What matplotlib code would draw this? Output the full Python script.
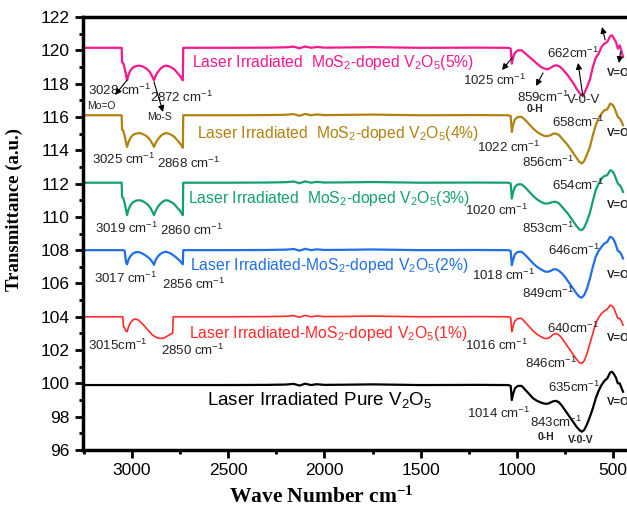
import numpy as np
import matplotlib
matplotlib.use("Agg")
import matplotlib.pyplot as plt
from matplotlib.ticker import MultipleLocator

plt.rcParams['font.family'] = ['Liberation Sans', 'DejaVu Sans']
plt.rcParams['mathtext.default'] = 'regular'

# wavenumber grids (cm-1)
wn_hi = [3255, 3054, 3052, 3045, 3038, 3032, 3026, 3018, 3008, 2995, 2980, 2965, 2950, 2935,
         2920, 2905, 2894, 2886, 2878, 2866, 2852, 2838, 2824, 2810, 2795, 2780, 2765, 2750,
         2740, 2736, 2734]
wn_red_hi = [3255, 3048, 3045, 3038, 3032, 3026, 3018, 3008, 2995, 2984, 2970, 2955, 2940, 2925,
             2910, 2895, 2880, 2865, 2850, 2835, 2820, 2805, 2792, 2789, 2786]
wn_mid = [2500, 2300, 2200, 2160, 2130, 2100, 2070, 2040, 2000, 1900, 1750, 1500, 1200, 1060]
wn_lo = [1045, 1032, 1026, 1020, 1010, 995, 975, 955, 935, 915, 895, 875, 855, 840, 825, 810,
         795, 780, 765, 750, 735, 720, 705, 690, 675, 662, 650, 635, 620, 605, 590, 575, 560,
         545, 530, 515, 505, 495, 485, 475, 465, 455, 448]

# 5 %
mag_hi = [120.15, 120.15, 119.3, 119.2, 118.9, 118.55, 118.2, 118.55, 118.8, 118.97, 119.05, 119.08,
          119.05, 118.97, 118.85, 118.65, 118.4, 118.2, 118.45, 118.7, 118.9, 119.02, 119.08, 119.05,
          118.97, 118.85, 118.65, 118.45, 118.25, 118.2, 120.15]
mag_mid = [120.15, 120.16, 120.18, 120.22, 120.12, 120.23, 120.15, 120.2, 120.16, 120.17, 120.19,
           120.15, 120.16, 120.15]
mag_lo = [120.15, 120.1, 119.2, 119.55, 119.85, 120.0, 120.0, 119.8, 119.6, 119.4, 119.2, 119.0,
          118.9, 118.85, 118.95, 119.05, 119.1, 119.05, 118.9, 118.7, 118.5, 118.25, 118.0, 117.7,
          117.45, 117.3, 117.4, 117.8, 118.25, 119.0, 119.55, 119.8, 120.2, 120.4, 120.5, 120.85,
          120.9, 120.7, 120.5, 120.1, 120.3, 119.9, 119.6]

# 4 %
oli_hi = [116.1, 116.1, 115.25, 115.15, 114.85, 114.5, 114.2, 114.5, 114.75, 114.92, 115.0, 115.03,
          115.0, 114.92, 114.8, 114.6, 114.38, 114.2, 114.42, 114.65, 114.85, 114.97, 115.03, 115.0,
          114.92, 114.8, 114.6, 114.4, 114.22, 114.15, 116.1]
oli_mid = [116.1, 116.11, 116.13, 116.17, 116.07, 116.18, 116.1, 116.15, 116.11, 116.12, 116.14,
           116.1, 116.11, 116.1]
oli_lo = [116.1, 116.05, 115.1, 115.5, 115.85, 116.0, 116.0, 115.8, 115.55, 115.3, 115.1, 114.95,
          114.85, 114.85, 114.9, 115.0, 115.0, 114.9, 114.7, 114.5, 114.3, 114.05, 113.8, 113.55,
          113.3, 113.2, 113.35, 113.75, 114.2, 114.9, 115.5, 115.9, 116.2, 116.4, 116.45, 116.8,
          116.75, 116.6, 116.3, 116.0, 115.9, 115.7, 115.5]

# 3 %
grn_hi = [112.05, 112.05, 111.2, 111.1, 110.8, 110.45, 110.1, 110.45, 110.7, 110.88, 110.97, 111.0,
          110.97, 110.88, 110.75, 110.55, 110.3, 110.1, 110.35, 110.6, 110.8, 110.93, 111.0, 110.97,
          110.88, 110.75, 110.55, 110.35, 110.15, 110.1, 112.05]
grn_mid = [112.05, 112.06, 112.08, 112.12, 112.02, 112.13, 112.05, 112.1, 112.06, 112.07, 112.09,
           112.05, 112.06, 112.05]
grn_lo = [112.05, 112.0, 111.1, 111.45, 111.8, 111.95, 111.95, 111.75, 111.5, 111.25, 111.05, 110.9,
          110.8, 110.8, 110.85, 110.9, 110.9, 110.8, 110.6, 110.4, 110.2, 109.95, 109.7, 109.45,
          109.25, 109.2, 109.35, 109.75, 110.25, 110.95, 111.6, 112.0, 112.3, 112.45, 112.5, 112.8,
          112.75, 112.6, 112.3, 112.0, 111.9, 111.7, 111.5]

# 2 %
blu_hi = [108.0, 108.0, 108.0, 108.0, 107.95, 107.3, 107.15, 107.45, 107.65, 107.8, 107.88, 107.88,
          107.82, 107.72, 107.6, 107.45, 107.28, 107.12, 107.4, 107.62, 107.78, 107.87, 107.9, 107.86,
          107.77, 107.65, 107.5, 107.35, 107.2, 107.15, 108.0]
blu_mid = [108.0, 108.01, 108.03, 108.07, 107.97, 108.08, 108.0, 108.05, 108.01, 108.02, 108.04,
           108.0, 108.01, 108.0]
blu_lo = [108.0, 107.95, 107.1, 107.4, 107.75, 107.9, 107.9, 107.7, 107.45, 107.2, 107.0, 106.85,
          106.72, 106.7, 106.75, 106.85, 106.85, 106.75, 106.6, 106.4, 106.15, 105.9, 105.65, 105.4,
          105.2, 105.15, 105.3, 105.7, 106.3, 107.0, 107.6, 107.95, 108.2, 108.4, 108.5, 108.8,
          108.75, 108.6, 108.3, 107.95, 107.9, 107.7, 107.5]

# 1 %
red_hi = [104.0, 104.0, 103.45, 103.3, 103.15, 103.1, 103.4, 103.65, 103.82, 103.87, 103.82, 103.68,
          103.5, 103.3, 103.1, 102.92, 102.8, 102.72, 102.7, 102.72, 102.82, 102.92, 103.0, 103.02,
          104.0]
red_mid = [104.0, 104.01, 104.03, 104.07, 103.97, 104.08, 104.0, 104.05, 104.01, 104.02, 104.04,
           104.0, 104.01, 104.0]
red_lo = [104.0, 103.95, 103.1, 103.4, 103.75, 103.9, 103.9, 103.65, 103.4, 103.15, 102.95, 102.8,
          102.7, 102.7, 102.8, 102.95, 103.0, 102.9, 102.7, 102.45, 102.2, 101.95, 101.7, 101.45,
          101.25, 101.2, 101.35, 101.8, 102.4, 103.0, 103.6, 103.95, 104.2, 104.35, 104.45, 104.7,
          104.65, 104.5, 104.2, 103.9, 103.9, 103.7, 103.5]

# pure
blk_mid = [99.9, 99.91, 99.93, 99.97, 99.87, 99.98, 99.9, 99.95, 99.91, 99.92, 99.94, 99.9, 99.91, 99.9]
blk_lo = [99.9, 99.85, 99.0, 99.35, 99.7, 99.85, 99.85, 99.6, 99.35, 99.1, 98.95, 98.85, 98.78, 98.78,
          98.85, 98.93, 98.95, 98.85, 98.65, 98.4, 98.15, 97.9, 97.65, 97.4, 97.2, 97.1, 97.2, 97.55,
          98.0, 98.5, 99.1, 99.55, 99.9, 100.15, 100.3, 100.65, 100.7, 100.55, 100.35, 100.0, 100.0,
          99.7, 99.5]

fig = plt.figure(figsize=(6.27, 5.08), dpi=100)
ax = fig.add_axes([83/627, 58/508, 546/627, 433/508])

ax.plot(wn_hi + wn_mid + wn_lo, mag_hi + mag_mid + mag_lo, color='#f2198f', lw=1.6)
ax.plot(wn_hi + wn_mid + wn_lo, oli_hi + oli_mid + oli_lo, color='#b0820f', lw=1.6)
ax.plot(wn_hi + wn_mid + wn_lo, grn_hi + grn_mid + grn_lo, color='#13a070', lw=1.6)
ax.plot(wn_hi + wn_mid + wn_lo, blu_hi + blu_mid + blu_lo, color='#1f6fe6', lw=1.6)
ax.plot(wn_red_hi + wn_mid + wn_lo, red_hi + red_mid + red_lo, color='#ff2a2a', lw=1.2)
ax.plot([3255] + wn_mid + wn_lo, [99.9] + blk_mid + blk_lo, color='black', lw=1.6)

ax.set_xlim(3255, 417)
ax.set_ylim(96, 122)
ax.set_xticks([3000, 2500, 2000, 1500, 1000, 500])
ax.set_yticks(np.arange(96, 123, 2))
ax.xaxis.set_minor_locator(MultipleLocator(250))
ax.yaxis.set_minor_locator(MultipleLocator(1))
ax.tick_params(which='major', length=6, width=2, labelsize=12.5, direction='out')
ax.tick_params(which='minor', length=3, width=2, direction='out')
for s in ax.spines.values():
    s.set_linewidth(2.5)

ax.set_ylabel('Transmittance (a.u.)', family='Liberation Serif', fontweight='bold', fontsize=13.5)
ax.yaxis.set_label_coords(-0.1105, 0.555)
fig.text(321/627, 11/508, 'Wave Number cm$^{-1}$', family='Liberation Serif', fontweight='bold',
         fontsize=15.5, ha='center', va='center')

# series labels
lab = dict(fontsize=11.3, va='center', ha='left')
ax.text(2688, 119.24, 'Laser Irradiated  MoS$_2$-doped V$_2$O$_5$(5%)', color='#f2198f', **lab)
ax.text(2662, 115.03, 'Laser Irradiated  MoS$_2$-doped V$_2$O$_5$(4%)', color='#b0820f', **lab)
ax.text(2709, 111.13, 'Laser Irradiated  MoS$_2$-doped V$_2$O$_5$(3%)', color='#13a070', **lab)
ax.text(2699, 107.1, 'Laser Irradiated-MoS$_2$-doped V$_2$O$_5$(2%)', color='#1f6fe6', **lab)
ax.text(2704, 103.0, 'Laser Irradiated-MoS$_2$-doped V$_2$O$_5$(1%)', color='#ff2a2a', **lab)
ax.text(2610, 99.0, 'Laser Irradiated Pure V$_2$O$_5$', color='black', fontsize=13.5,
        va='center', ha='left')

# peak annotations
an = dict(fontsize=9.5, va='center', ha='left', color='#222222')
small = dict(fontsize=7.5, va='center', ha='left', color='#222222')
bold = dict(fontsize=7.5, va='center', ha='left', color='#222222', fontweight='bold')
left_notes = [(3229, 117.6, '3028 cm$^{-1}$'), (2906, 117.2, '2872 cm$^{-1}$'),
              (3208, 113.47, '3025 cm$^{-1}$'), (2870, 113.23, '2868 cm$^{-1}$'),
              (3192, 109.33, '3019 cm$^{-1}$'), (2854, 109.2, '2860 cm$^{-1}$'),
              (3198, 106.32, '3017 cm$^{-1}$'), (2844, 105.96, '2856 cm$^{-1}$'),
              (3229, 102.3, '3015cm$^{-1}$'), (2849, 102.0, '2850 cm$^{-1}$')]
right_notes = [(1279, 118.22, '1025 cm$^{-1}$'), (999, 117.2, '859cm$^{-1}$'),
               (843, 119.84, '662cm$^{-1}$'), (739, 117.0, 'V-0-V'),
               (817, 115.69, '658cm$^{-1}$'), (1207, 114.19, '1022 cm$^{-1}$'),
               (973, 113.29, '856cm$^{-1}$'), (817, 111.9, '654cm$^{-1}$'),
               (1269, 110.41, '1020 cm$^{-1}$'), (973, 109.33, '853cm$^{-1}$'),
               (838, 108.0, '646cm$^{-1}$'), (1233, 106.5, '1018 cm$^{-1}$'),
               (973, 105.42, '849cm$^{-1}$'), (843, 103.32, '640cm$^{-1}$'),
               (1269, 102.3, '1016 cm$^{-1}$'), (957, 101.22, '846cm$^{-1}$'),
               (838, 99.78, '635cm$^{-1}$'), (1259, 98.22, '1014 cm$^{-1}$'),
               (931, 97.68, '843cm$^{-1}$')]
for x, y, t in left_notes + right_notes:
    ax.text(x, y, t, **an)
ax.text(3234, 116.65, 'Mo=O', **small)
ax.text(2922, 116.0, 'Mo-S', **small)
for y in [118.64, 115.03, 110.71, 106.5, 102.72, 98.88]:
    ax.text(531, y, 'V=O', fontsize=8, va='center', ha='left', color='#222222',
            fontweight='bold', clip_on=False)
ax.text(947, 116.45, '0-H', **bold)
ax.text(890, 96.78, '0-H', **bold)
ax.text(734, 96.6, 'V-0-V', **bold)

arrows = [((3026, 118.22), (3088, 117.32)), ((2886, 118.1), (2839, 116.3)),
          ((1025, 119.54), (1077, 118.82)), ((864, 118.64), (900, 117.86)),
          ((656, 117.2), (682, 119.24)), ((541, 120.62), (557, 121.4)),
          ((461, 119.9), (469, 119.24))]
for tail, head in arrows:
    ax.annotate('', xy=head, xytext=tail,
                arrowprops=dict(arrowstyle='-|>', color='black', lw=0.8, mutation_scale=9,
                                shrinkA=0, shrinkB=0))

fig.savefig('out.png', dpi=100)
